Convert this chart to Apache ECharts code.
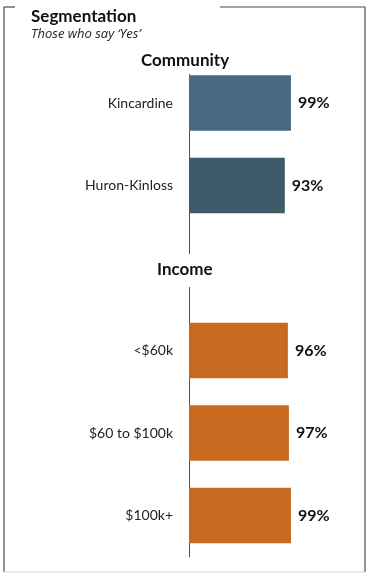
<!DOCTYPE html>
<html>
<head>
<meta charset="utf-8">
<script src="https://cdn.jsdelivr.net/npm/echarts@6/dist/echarts.min.js"></script>
<style>
  html, body { margin: 0; padding: 0; background: #fff; }
  #chart { width: 366px; height: 574px; }
</style>
</head>
<body>
<div id="chart"></div>
<script>
// Share answering "Yes", by community and by household income.
// The empty category leaves room for the "Income" heading.
const categories = ['Kincardine', 'Huron-Kinloss', '', '<$60k', '$60 to $100k', '$100k+'];
const values = [99, 93, null, 96, 97, 99];
const barColors = ['#4a6a84', '#3f5a68', '#ffffff', '#c86a1f', '#c86a1f', '#c86a1f'];

const FONT = 'Lato, "Open Sans", sans-serif';

const chart = echarts.init(document.getElementById('chart'), null, { renderer: 'canvas' });

const frameStroke = { stroke: '#4a4a4a', lineWidth: 1.2 };

chart.setOption({
  animation: false,
  backgroundColor: '#ffffff',
  textStyle: { fontFamily: FONT },
  title: [
    {
      text: 'Segmentation',
      left: 26, top: 2,
      textStyle: { fontFamily: FONT, fontSize: 17, fontWeight: 'bold', color: '#111', lineHeight: 20 }
    },
    {
      text: 'Those who say \u2018Yes\u2019',
      left: 26, top: 21,
      textStyle: { fontFamily: '"Open Sans", sans-serif', fontSize: 13, fontStyle: 'italic', fontWeight: 'normal', color: '#222', lineHeight: 16 }
    },
    {
      text: 'Community',
      left: 137, top: 48,
      padding: [3, 4, 3, 4],
      backgroundColor: '#ffffff',
      textStyle: { fontFamily: FONT, fontSize: 17, fontWeight: 'bold', color: '#111', lineHeight: 20 }
    },
    {
      text: 'Income',
      left: 153, top: 254,
      padding: [6, 4, 7, 4],
      backgroundColor: '#ffffff',
      textStyle: { fontFamily: FONT, fontSize: 17, fontWeight: 'bold', color: '#111', lineHeight: 20 }
    }
  ],
  grid: { left: 189, top: 61.75, width: 103, height: 495, containLabel: false },
  xAxis: {
    type: 'value', min: 0, max: 100,
    show: false
  },
  yAxis: {
    type: 'category',
    data: categories,
    inverse: true,
    axisLine: { show: true, lineStyle: { color: '#555', width: 1 } },
    axisTick: { show: false },
    axisLabel: { margin: 16, fontFamily: FONT, fontSize: 14, color: '#222' },
    splitLine: { show: false }
  },
  series: [{
    type: 'bar',
    data: values.map((v, i) => ({ value: v, itemStyle: { color: barColors[i] } })),
    barCategoryGap: '33%',
    label: {
      show: true,
      position: 'right',
      distance: 7,
      formatter: p => (p.value == null ? '' : p.value + '%'),
      fontFamily: FONT, fontSize: 16, fontWeight: 'bold', color: '#111'
    }
  }],
  graphic: [
    { type: 'line', shape: { x1: 4, y1: 7, x2: 15, y2: 7 }, style: frameStroke, silent: true },
    { type: 'line', shape: { x1: 220, y1: 7, x2: 365, y2: 7 }, style: frameStroke, silent: true },
    { type: 'line', shape: { x1: 4, y1: 7, x2: 4, y2: 572 }, style: frameStroke, silent: true },
    { type: 'line', shape: { x1: 365, y1: 7, x2: 365, y2: 572 }, style: frameStroke, silent: true },
    { type: 'line', shape: { x1: 4, y1: 572, x2: 365, y2: 572 }, style: { stroke: '#d6d6d6', lineWidth: 1 }, silent: true }
  ]
});
</script>
</body>
</html>
